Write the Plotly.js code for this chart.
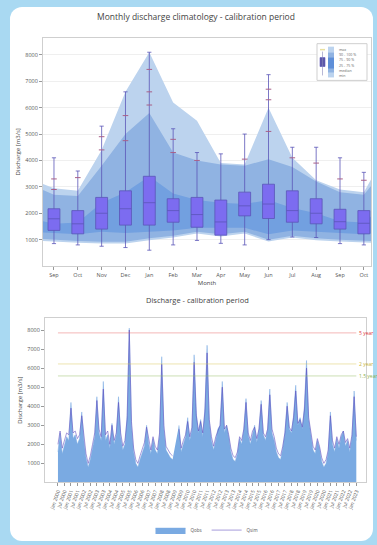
<!DOCTYPE html>
<html><head><meta charset="utf-8">
<script src="https://cdn.plot.ly/plotly-3.0.1.min.js"></script>
<style>
html,body{margin:0;padding:0;background:#a9d9f2;width:377px;height:545px;overflow:hidden;}
#card{position:absolute;left:10px;top:7px;width:363px;height:534px;background:#fff;border-radius:12px;}
#chart{position:absolute;left:0;top:0;width:377px;height:545px;}
</style></head><body><div id="card"></div><div id="chart"></div>
<script>
// ---------- top chart: monthly climatology ----------
const months = ['Sep','Oct','Nov','Dec','Jan','Feb','Mar','Apr','May','Jun','Jul','Aug','Sep','Oct'];
const boxQ1     = [1350,1220,1400,1550,1550,1660,1470,1170,1900,1800,1660,1600,1400,1220];
const boxMedian = [1790,1600,2000,2170,2400,2100,1950,1670,2280,2350,2100,2000,1680,1620];
const boxQ3     = [2170,2100,2600,2850,3400,2550,2600,2500,2800,3100,2850,2550,2150,2100];
const boxLow    = [850,800,750,700,600,800,970,860,800,1000,1100,1080,850,800];
const boxHigh   = [4100,3600,5300,6600,8100,5200,4300,4250,5000,7250,4500,4500,4100,3550];
// outliers: month index, value
const outMonth = [0,0,1,2,2,3,3,4,4,4,5,5,6,8,9,9,9,10,11,12,13];
const outValue = [3300,2900,3350,4400,4900,5700,4750,7450,6600,6100,4300,4800,4000,4050,6700,6300,5100,4100,3900,3300,3250];
// envelope bands, months Aug (previous) .. Nov (next)
const bandMonths = ['Aug','Sep','Oct','Nov','Dec','Jan','Feb','Mar','Apr','May','Jun','Jul','Aug','Sep','Oct','Nov'];
const bandMax = [3300,2950,2850,4400,6600,8100,6200,5500,3900,3850,6000,4100,3250,2900,2800,4400];
const bandP90 = [3100,2700,2650,3800,5000,5800,4300,4000,3850,3800,4050,3750,3200,2800,2700,3800];
const bandP75 = [1800,1600,1650,2400,2800,3400,2750,2500,2400,2350,2500,2200,2000,1700,1650,2400];
const bandP25 = [1300,1250,1200,1300,1250,1300,1350,1450,1450,1450,1200,1350,1300,1250,1200,1300];
const bandP10 = [1050,1000,950,920,920,1050,1150,1300,1200,1300,1000,1150,1050,1000,950,920];
const bandMin = [980,930,880,850,850,980,1080,1230,1120,1230,930,1080,980,930,880,850];
const yTicks = [1000,2000,3000,4000,5000,6000,7000,8000];

// ---------- bottom chart: discharge series (2-monthly, from Jan 2000) ----------
const seriesStart = [2000, 1];
const qObs = [1600,2600,1500,2000,2400,2200,4200,2300,2500,2000,
2300,3700,2200,1300,800,1200,1800,2400,4500,2600,
2200,5300,2200,2500,1800,3100,2000,2500,4500,2400,
1700,2000,3500,8100,3000,1600,1000,800,1200,1500,
1900,3000,2000,1500,2300,1700,1500,2500,6600,2800,
1700,1500,1300,1200,null,null,3000,1600,2000,2400,
3400,2200,2800,6700,3600,2600,3300,2400,3900,7200,
3200,2200,1700,2200,2800,3000,5300,2600,3000,2400,
1600,1200,1100,1500,2300,2000,2800,4400,2500,2000,
2600,3000,2100,2800,4300,2500,2200,2800,4900,2600,
2200,1600,1300,1200,1800,2600,4200,2800,2600,3500,
5100,3000,3400,2800,4000,6400,3300,2600,1700,1500,
2200,1800,1100,800,1000,1600,3700,2000,1600,2300,
1800,2400,2700,1900,2200,1600,2400,4800,2200];
const qSim = [2000,2700,1800,2200,2600,2500,3900,2600,2700,2300,
2500,3500,2400,1500,1000,1400,2000,2600,4300,2800,
2400,4900,2500,2700,2000,3000,2200,2600,4200,2600,
1900,2200,3300,8000,3200,1800,1200,1000,1400,1700,
2100,2900,2200,1700,2400,1900,1700,2600,6200,3000,
1900,1700,1500,1400,null,null,2800,1800,2200,2500,
3200,2400,2900,6300,3500,2700,3200,2600,3700,6800,
3300,2400,1900,2400,2700,3000,5000,2800,3000,2500,
1800,1400,1300,1600,2400,2200,2800,4200,2600,2200,
2700,2900,2300,2800,4100,2600,2400,2800,4600,2800,
2400,1800,1500,1400,1900,2600,4000,2900,2700,3400,
4800,3100,3300,2900,3800,6000,3400,2700,1900,1700,
2300,1900,1300,1000,1200,1700,3500,2200,1800,2400,
2000,2500,2700,2100,2300,1800,2500,4500,2400];
const returnNames  = ['5 year','2 year','1.5 year'];
const returnValues = [7850,6220,5590];
const returnColors = ['#e0393e','#c9b23a','#8cb04c'];
const returnLines  = ['rgba(230,90,90,0.55)','rgba(220,200,90,0.6)','rgba(150,190,100,0.6)'];

// ---------- build ----------
const W=377,H=545;
const px=x=>x/W, py=y=>1-y/H;
const idx = months.map((m,i)=>i);
const bx = bandMonths.map((m,i)=>i-1);
const dates = qObs.map((v,i)=>{
  const m = seriesStart[1]-1 + 2*i;
  const y = seriesStart[0] + Math.floor(m/12);
  const mm = (m%12)+1;
  return y+'-'+String(mm).padStart(2,'0')+'-01';
});
const dateTicks = dates.filter((d,i)=>i%3===0);

function band(upper, lower, color){
  return {type:'scatter', mode:'lines', x:bx.concat(bx.slice().reverse()),
    y:upper.concat(lower.slice().reverse()), fill:'toself', fillcolor:color,
    line:{width:0}, hoverinfo:'skip', showlegend:false, xaxis:'x', yaxis:'y'};
}
const traces = [
  band(bandMax, bandMin, '#bcd3ee'),
  band(bandP90, bandP10, '#90b3e2'),
  band(bandP75, bandP25, '#72a0e0'),
  {type:'box', x:idx, q1:boxQ1, median:boxMedian, q3:boxQ3, lowerfence:boxLow, upperfence:boxHigh,
   width:0.5, whiskerwidth:0.35, fillcolor:'#7c6cf0', line:{color:'#5a55b8', width:0.8},
   boxpoints:false, showlegend:false, xaxis:'x3', yaxis:'y3', name:'Qsim'},
  {type:'scatter', mode:'markers', x:outMonth, y:outValue, showlegend:false,
   marker:{symbol:'line-ew', size:4, line:{color:'#a86088', width:1}}, xaxis:'x3', yaxis:'y3'},
  {type:'scatter', mode:'lines', x:dates, y:qObs, fill:'tozeroy', fillcolor:'#7aaae2',
   line:{color:'#7aaae2', width:0.5}, connectgaps:false, name:'Qobs', xaxis:'x2', yaxis:'y2'},
  {type:'scatter', mode:'lines', x:dates, y:qSim, line:{color:'rgba(95,75,190,0.7)', width:0.8},
   connectgaps:false, name:'Qsim', xaxis:'x2', yaxis:'y2'}
];
returnValues.forEach((v,i)=>{
  traces.push({type:'scatter', mode:'lines', x:[dates[0], dates[dates.length-1]], y:[v,v],
    line:{color:returnLines[i], width:0.8}, showlegend:false, hoverinfo:'skip', xaxis:'x2', yaxis:'y2'});
});

const axisCommon = {ticks:'outside', ticklen:3, tickcolor:'#999', showline:true, mirror:true,
  linecolor:'#cfcfcf', linewidth:1, zeroline:false, tickfont:{size:5.5, color:'#555'}};

const annotations = [
  {text:'Discharge - calibration period', xref:'paper', yref:'paper', x:px(198), y:py(302),
   xanchor:'center', yanchor:'middle', showarrow:false, font:{size:7.5, color:'#444'}}
];
returnNames.forEach((n,i)=>{
  annotations.push({text:n, xref:'paper', yref:'y2', x:px(357), y:returnValues[i], xanchor:'left',
    yanchor:'middle', showarrow:false, font:{size:5, color:returnColors[i]}});
});
// manual compact legend for the climatology chart
const legLabels = ['max','90 - 100 %','75 - 90 %','25 - 75 %','median','min'];
legLabels.forEach((t,i)=>{
  annotations.push({text:t, xref:'paper', yref:'paper', x:px(337), y:py(50+i*5.2), xanchor:'left',
    yanchor:'middle', showarrow:false, font:{size:3.6, color:'#666'}});
});
const shapes = [
  {type:'rect', xref:'paper', yref:'paper', x0:px(317), x1:px(367), y0:py(81), y1:py(44), line:{color:'#cfcfcf', width:1}, fillcolor:'#fff'},
  {type:'line', xref:'paper', yref:'paper', x0:px(320), x1:px(325), y0:py(50), y1:py(50), line:{color:'#e8e0a0', width:1.5}},
  {type:'rect', xref:'paper', yref:'paper', x0:px(320), x1:px(325), y0:py(67), y1:py(58), line:{color:'#5a55b8', width:0.6}, fillcolor:'#5c58a8'},
  {type:'line', xref:'paper', yref:'paper', x0:px(322.5), x1:px(322.5), y0:py(76), y1:py(52), line:{color:'#8888bb', width:0.6}},
  {type:'rect', xref:'paper', yref:'paper', x0:px(328), x1:px(334), y0:py(78), y1:py(47), line:{width:0}, fillcolor:'#bcd3ee'},
  {type:'rect', xref:'paper', yref:'paper', x0:px(328), x1:px(334), y0:py(73), y1:py(53), line:{width:0}, fillcolor:'#90b3e2'},
  {type:'rect', xref:'paper', yref:'paper', x0:px(328), x1:px(334), y0:py(69), y1:py(58), line:{width:0}, fillcolor:'#5f8fd8'}
];

const topX = {domain:[px(43),px(371)], range:[-0.46,13.3]};
const topY = {domain:[py(268),py(38)], range:[0,8650]};
const layout = {
  width:W, height:H, margin:{l:0,r:0,t:0,b:0},
  paper_bgcolor:'rgba(0,0,0,0)', plot_bgcolor:'#fff',
  font:{family:'Open Sans, sans-serif', size:6, color:'#444'},
  title:{text:'Monthly discharge climatology - calibration period', x:px(196), xanchor:'center',
    y:py(17), yanchor:'middle', font:{size:8.5, color:'#444'}},
  xaxis:Object.assign({}, axisCommon, topX, {tickvals:idx,
    ticktext:months, showgrid:false, anchor:'y', title:{text:'Month', font:{size:6, color:'#444'}, standoff:1}}),
  yaxis:Object.assign({}, axisCommon, topY, {tickvals:yTicks,
    ticktext:yTicks.map(String), showgrid:true, gridcolor:'#ebebeb', gridwidth:0.8, anchor:'x',
    title:{text:'Discharge [m3/s]', font:{size:6, color:'#444'}, standoff:4}}),
  xaxis3:{overlaying:'x', anchor:'y3', range:topX.range, visible:false, showgrid:false, zeroline:false},
  yaxis3:{overlaying:'y', anchor:'x3', range:topY.range, visible:false, showgrid:false, zeroline:false},
  xaxis2:Object.assign({}, axisCommon, {domain:[px(45),px(366)], type:'date', range:['1999-01-01','2023-10-01'],
    tickvals:dateTicks, tickformat:'%b %Y', tickangle:-70, showgrid:false, anchor:'y2',
    tickfont:{size:5, color:'#555'}}),
  yaxis2:Object.assign({}, axisCommon, {domain:[py(486),py(320)], range:[0,8650], tickvals:yTicks,
    ticktext:yTicks.map(String), showgrid:false, anchor:'x2',
    title:{text:'Discharge [m3/s]', font:{size:6, color:'#444'}, standoff:4}}),
  legend:{orientation:'h', x:px(207), xanchor:'center', y:py(534), yanchor:'middle',
    font:{size:4.5, color:'#555'}, bgcolor:'rgba(0,0,0,0)', itemwidth:30},
  annotations:annotations, shapes:shapes
};
Plotly.newPlot('chart', traces, layout, {staticPlot:true, displayModeBar:false});
</script></body></html>
